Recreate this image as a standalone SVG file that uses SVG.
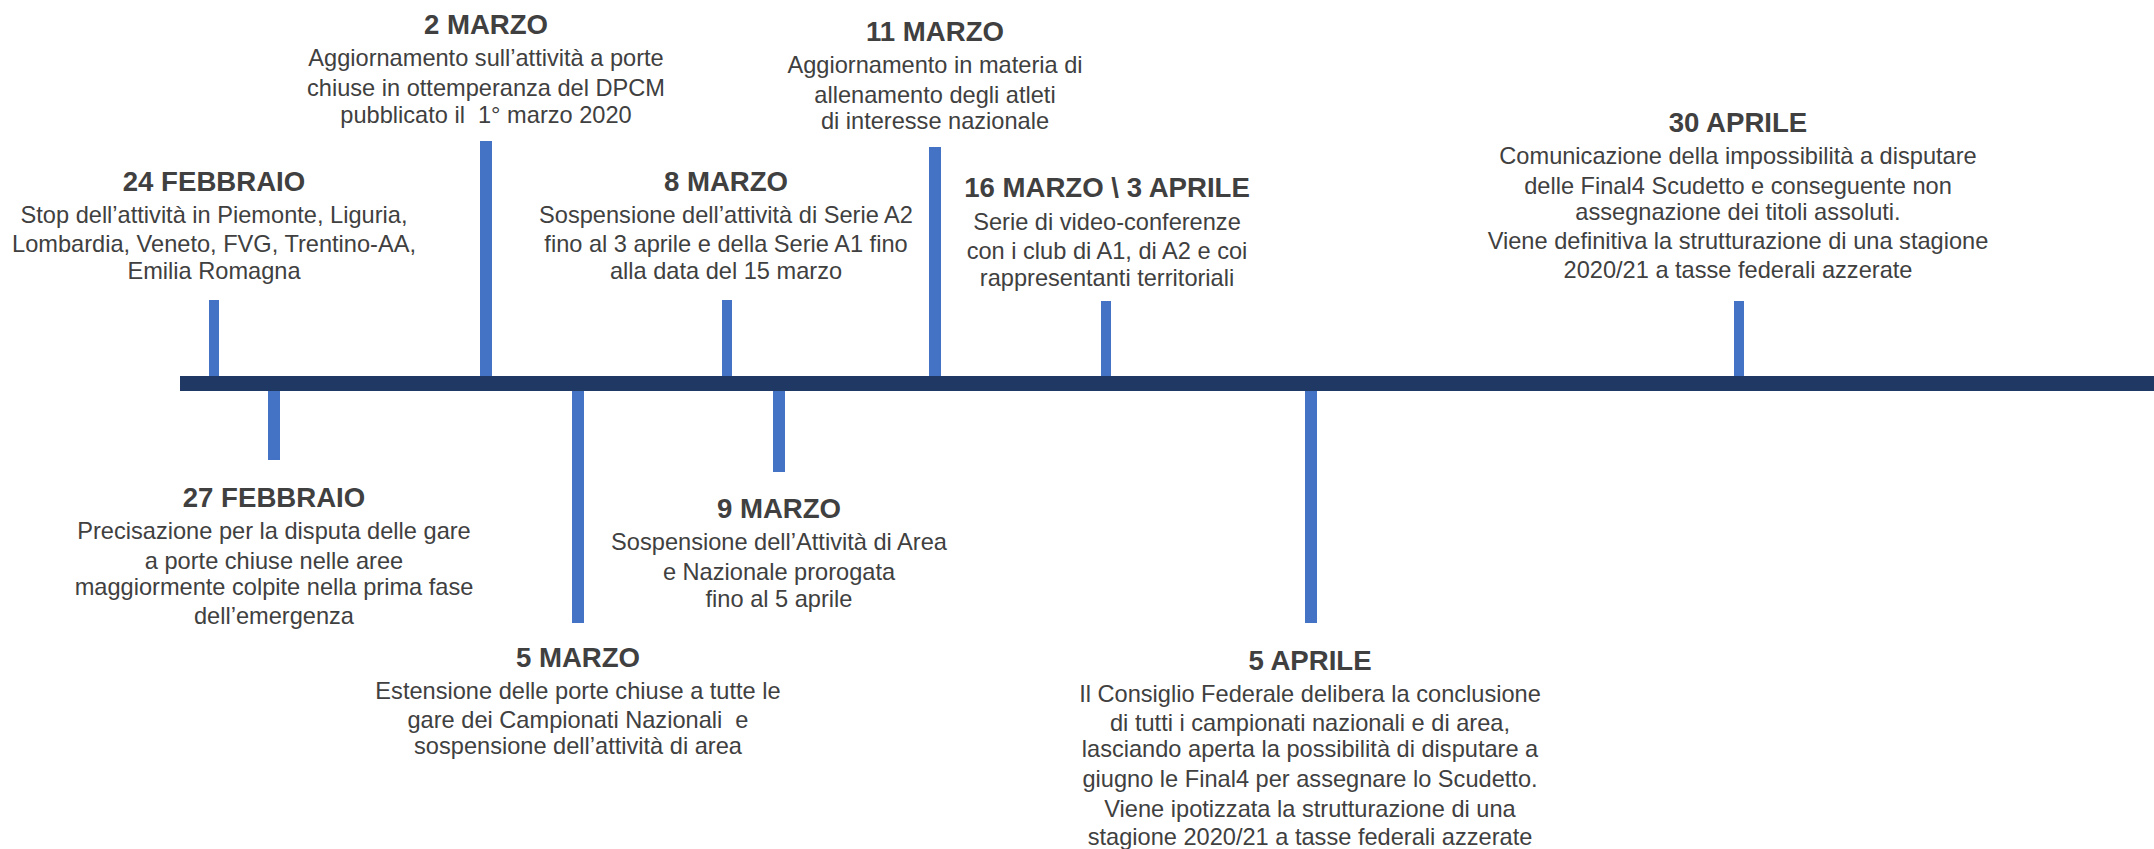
<svg xmlns="http://www.w3.org/2000/svg" width="2154" height="849" viewBox="0 0 2154 849">
<style>
.t{font-family:"Liberation Sans",Arial,sans-serif;font-weight:bold;font-size:27.6px;fill:#404040;text-anchor:middle}
.b{font-family:"Liberation Sans",Arial,sans-serif;font-size:23.6px;fill:#404040;text-anchor:middle}
.tick{fill:#4472C4}
.axis{fill:#203864}
</style>
<rect width="2154" height="849" fill="#ffffff"/>
<g id="connectors">
<rect class="axis" x="180" y="376" width="1974" height="15"/>
<rect class="tick" x="209" y="300" width="10" height="76"/>
<rect class="tick" x="268" y="391" width="12" height="69"/>
<rect class="tick" x="480" y="141" width="12" height="235"/>
<rect class="tick" x="572" y="391" width="12" height="232"/>
<rect class="tick" x="722" y="300" width="10" height="76"/>
<rect class="tick" x="773" y="391" width="12" height="81"/>
<rect class="tick" x="929" y="147" width="12" height="229"/>
<rect class="tick" x="1101" y="301" width="10" height="75"/>
<rect class="tick" x="1305" y="391" width="12" height="232"/>
<rect class="tick" x="1734" y="301" width="10" height="75"/>
</g>
<g id="n24feb">
<text class="t" x="214" y="191">24 FEBBRAIO</text>
<text class="b" x="214" y="223">Stop dell’attività in Piemonte, Liguria,</text>
<text class="b" x="214" y="252">Lombardia, Veneto, FVG, Trentino-AA,</text>
<text class="b" x="214" y="279">Emilia Romagna</text>
</g>
<g id="n27feb">
<text class="t" x="274" y="507">27 FEBBRAIO</text>
<text class="b" x="274" y="539">Precisazione per la disputa delle gare</text>
<text class="b" x="274" y="569">a porte chiuse nelle aree</text>
<text class="b" x="274" y="595">maggiormente colpite nella prima fase</text>
<text class="b" x="274" y="624">dell’emergenza</text>
</g>
<g id="n2mar">
<text class="t" x="486" y="34">2 MARZO</text>
<text class="b" x="486" y="66">Aggiornamento sull’attività a porte</text>
<text class="b" x="486" y="96">chiuse in ottemperanza del DPCM</text>
<text class="b" x="486" y="123">pubblicato il&#160; 1° marzo 2020</text>
</g>
<g id="n5mar">
<text class="t" x="578" y="667">5 MARZO</text>
<text class="b" x="578" y="699">Estensione delle porte chiuse a tutte le</text>
<text class="b" x="578" y="728">gare dei Campionati Nazionali&#160; e</text>
<text class="b" x="578" y="754">sospensione dell’attività di area</text>
</g>
<g id="n8mar">
<text class="t" x="726" y="191">8 MARZO</text>
<text class="b" x="726" y="223">Sospensione dell’attività di Serie A2</text>
<text class="b" x="726" y="252">fino al 3 aprile e della Serie A1 fino</text>
<text class="b" x="726" y="279">alla data del 15 marzo</text>
</g>
<g id="n9mar">
<text class="t" x="779" y="518">9 MARZO</text>
<text class="b" x="779" y="550">Sospensione dell’Attività di Area</text>
<text class="b" x="779" y="580">e Nazionale prorogata</text>
<text class="b" x="779" y="607">fino al 5 aprile</text>
</g>
<g id="n11mar">
<text class="t" x="935" y="41">11 MARZO</text>
<text class="b" x="935" y="73">Aggiornamento in materia di</text>
<text class="b" x="935" y="103">allenamento degli atleti</text>
<text class="b" x="935" y="129">di interesse nazionale</text>
</g>
<g id="n16mar">
<text class="t" x="1107" y="197">16 MARZO \ 3 APRILE</text>
<text class="b" x="1107" y="230">Serie di video-conferenze</text>
<text class="b" x="1107" y="259">con i club di A1, di A2 e coi</text>
<text class="b" x="1107" y="286">rappresentanti territoriali</text>
</g>
<g id="n5apr">
<text class="t" x="1310" y="670">5 APRILE</text>
<text class="b" x="1310" y="702">Il Consiglio Federale delibera la conclusione</text>
<text class="b" x="1310" y="731">di tutti i campionati nazionali e di area,</text>
<text class="b" x="1310" y="757">lasciando aperta la possibilità di disputare a</text>
<text class="b" x="1310" y="787">giugno le Final4 per assegnare lo Scudetto.</text>
<text class="b" x="1310" y="817">Viene ipotizzata la strutturazione di una</text>
<text class="b" x="1310" y="845">stagione 2020/21 a tasse federali azzerate</text>
</g>
<g id="n30apr">
<text class="t" x="1738" y="132">30 APRILE</text>
<text class="b" x="1738" y="164">Comunicazione della impossibilità a disputare</text>
<text class="b" x="1738" y="194">delle Final4 Scudetto e conseguente non</text>
<text class="b" x="1738" y="220">assegnazione dei titoli assoluti.</text>
<text class="b" x="1738" y="249">Viene definitiva la strutturazione di una stagione</text>
<text class="b" x="1738" y="278">2020/21 a tasse federali azzerate</text>
</g>
</svg>
